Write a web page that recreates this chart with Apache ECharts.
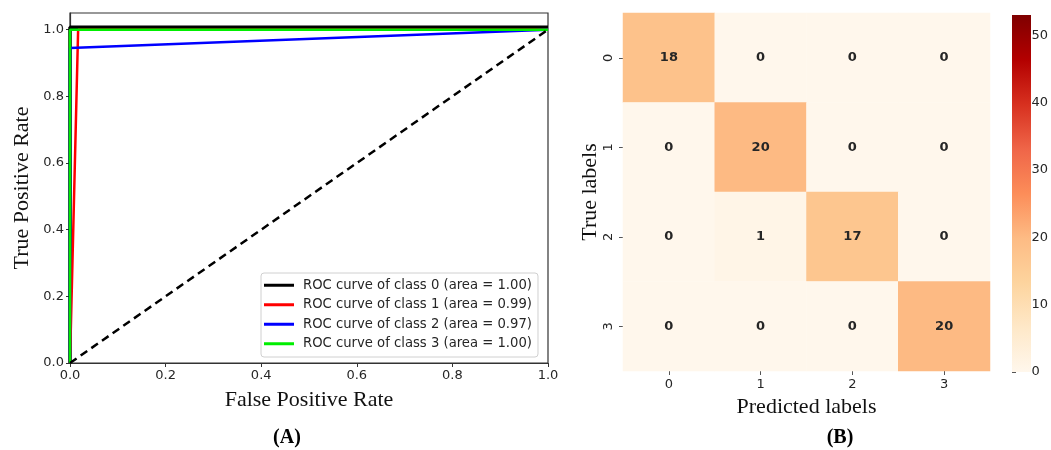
<!DOCTYPE html>
<html>
<head>
<meta charset="utf-8">
<script src="https://cdn.jsdelivr.net/npm/echarts@6/dist/echarts.min.js"></script>
<style>
html,body{margin:0;padding:0;background:#fff;}
#main{width:1051px;height:450px;}
</style>
</head>
<body>
<div id="main"></div>
<script>
// ---- ROC data (panel A) ----
var rocNames = [
  'ROC curve of class 0 (area = 1.00)',
  'ROC curve of class 1 (area = 0.99)',
  'ROC curve of class 2 (area = 0.97)',
  'ROC curve of class 3 (area = 1.00)'
];
var rocColors = ['#000000', '#ff0000', '#0000ff', '#00ee00'];
var roc0 = [[0, 0], [0, 1.007], [1, 1.007]];
var roc1 = [[0, 0], [0.017, 1.0], [1, 1.0]];
var roc2 = [[0, 0], [0, 0.945], [1, 1.0]];
var roc3 = [[0, 0], [0, 1.0], [1, 1.0]];
var chance = [[0, 0], [1, 1]];
var rocTicks = [0, 0.2, 0.4, 0.6, 0.8, 1.0];

// ---- Confusion matrix (panel B) ----
var cmLabels = ['0', '1', '2', '3'];
var cmMatrix = [
  [18, 0, 0, 0],
  [0, 20, 0, 0],
  [0, 1, 17, 0],
  [0, 0, 0, 20]
];
var cbMax = 53;
var cbTicks = [0, 10, 20, 30, 40, 50];
var orrd = ['#fff7ec', '#fee8c8', '#fdd49e', '#fdbb84', '#fc8d59', '#ef6548', '#d7301f', '#b30000', '#7f0000'];

var heatData = [];
cmMatrix.forEach(function (row, r) {
  row.forEach(function (v, c) { heatData.push([c, r, v]); });
});

var chart = echarts.init(document.getElementById('main'), null, {renderer: 'canvas'});

var tickFont = {fontFamily: 'DejaVu Sans', fontSize: 13, color: '#262626'};
var nameFont = {fontFamily: 'Liberation Serif', fontSize: 22, color: '#111'};

var rocSeries = [roc0, roc1, roc2, roc3].map(function (d, i) {
  return {
    name: rocNames[i], type: 'line', data: d, xAxisIndex: 0, yAxisIndex: 0,
    symbol: 'none', color: rocColors[i],
    itemStyle: {color: rocColors[i]},
    lineStyle: {color: rocColors[i], width: i === 0 ? 3.5 : 2.5},
    animation: false
  };
});
rocSeries.push({
  name: 'chance', type: 'line', data: chance, xAxisIndex: 0, yAxisIndex: 0,
  symbol: 'none', lineStyle: {color: '#000', width: 2.5, type: [8, 5]}, animation: false
});

var gradStops = orrd.map(function (c, i) { return {offset: 1 - i / (orrd.length - 1), color: c}; });

var option = {
  backgroundColor: '#fff',
  animation: false,
  grid: [
    {left: 70, top: 13, width: 478, height: 350, show: true, borderColor: '#333', borderWidth: 1.2, backgroundColor: 'transparent'},
    {left: 623, top: 13, width: 367, height: 358},
    {left: 1012, top: 15, width: 19, height: 357}
  ],
  xAxis: [
    {gridIndex: 0, type: 'value', min: 0, max: 1, interval: 0.2,
     name: 'False Positive Rate', nameLocation: 'middle', nameGap: 26, nameTextStyle: nameFont,
     axisLine: {lineStyle: {color: '#333', width: 1.2}},
     axisTick: {length: 4, lineStyle: {color: '#333'}},
     splitLine: {show: false},
     axisLabel: Object.assign({margin: 6, formatter: function (v) { return v.toFixed(1); }}, tickFont)},
    {gridIndex: 1, type: 'category', data: cmLabels,
     name: 'Predicted labels', nameLocation: 'middle', nameGap: 22, nameTextStyle: nameFont,
     axisLine: {show: false},
     axisTick: {show: true, alignWithLabel: true, length: 4, lineStyle: {color: '#555'}},
     axisLabel: Object.assign({margin: 7}, tickFont),
     splitLine: {show: false}},
    {gridIndex: 2, type: 'value', show: false, min: 0, max: 1}
  ],
  yAxis: [
    {gridIndex: 0, type: 'value', min: 0, max: 1.05,
     name: 'True Positive Rate', nameLocation: 'middle', nameGap: 37, nameTextStyle: nameFont,
     axisLine: {show: true, lineStyle: {color: '#333', width: 1.2}},
     axisTick: {show: true, length: 4, lineStyle: {color: '#333'}, customValues: rocTicks},
     splitLine: {show: false},
     axisLabel: Object.assign({margin: 6, customValues: rocTicks, formatter: function (v) { return v.toFixed(1); }}, tickFont)},
    {gridIndex: 1, type: 'category', data: cmLabels, inverse: true,
     name: 'True labels', nameLocation: 'middle', nameGap: 20, nameTextStyle: nameFont,
     axisLine: {show: false},
     axisTick: {show: true, alignWithLabel: true, length: 4, lineStyle: {color: '#555'}},
     axisLabel: Object.assign({margin: 8, rotate: 90}, tickFont),
     splitLine: {show: false}},
    {gridIndex: 2, type: 'value', position: 'right', min: 0, max: cbMax,
     axisLine: {show: false},
     axisTick: {show: true, length: 4, lineStyle: {color: '#555'}, customValues: cbTicks},
     axisLabel: Object.assign({margin: 7, customValues: cbTicks}, tickFont),
     splitLine: {show: false}}
  ],
  visualMap: {
    type: 'continuous', show: false, min: 0, max: cbMax, seriesIndex: 5,
    inRange: {color: orrd}
  },
  legend: {
    data: rocNames, orient: 'vertical', left: 261, top: 273,
    icon: 'rect', itemWidth: 30, itemHeight: 3, itemGap: 5,
    backgroundColor: '#fff', borderColor: '#d0d0d0', borderWidth: 1, borderRadius: 3,
    padding: [5, 6, 6, 3],
    textStyle: {fontFamily: 'DejaVu Sans', fontSize: 13.2, color: '#262626', padding: [0, 0, 0, 4], lineHeight: 14.5},
    selectedMode: false
  },
  graphic: [
    {type: 'rect', left: 1012, top: 15, shape: {width: 19, height: 357},
     style: {fill: new echarts.graphic.LinearGradient(0, 0, 0, 1, gradStops)}, z: 1},
    {type: 'text', x: 287, y: 438,
     style: {text: '(A)', font: 'bold 20px "Liberation Serif"', fill: '#000', textAlign: 'center', textVerticalAlign: 'middle'}},
    {type: 'text', x: 840, y: 438,
     style: {text: '(B)', font: 'bold 20px "Liberation Serif"', fill: '#000', textAlign: 'center', textVerticalAlign: 'middle'}}
  ],
  series: rocSeries.concat([{
    type: 'heatmap', xAxisIndex: 1, yAxisIndex: 1, data: heatData,
    label: {show: true, fontFamily: 'DejaVu Sans', fontWeight: 'bold', fontSize: 13, color: '#262626'},
    itemStyle: {borderWidth: 0},
    emphasis: {disabled: true}
  }])
};
chart.setOption(option);
</script>
</body>
</html>
